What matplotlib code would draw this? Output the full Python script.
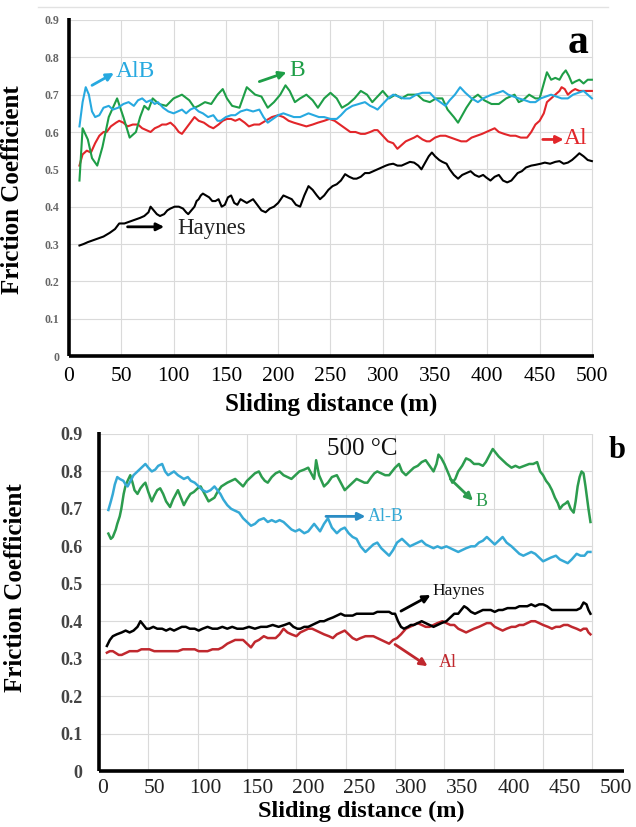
import matplotlib
matplotlib.use("Agg")
import matplotlib.pyplot as plt
from matplotlib.lines import Line2D

plt.rcParams['font.family'] = ['Liberation Serif', 'DejaVu Serif']

# ---------------- data: panel a ----------------
alb_a = [(10,.615),(13,.68),(16,.72),(19,.70),(22,.655),(25,.64),(29,.645),(33,.665),(38,.67),(42,.66),(47,.665),(52,.675),(57,.68),(62,.67),(66,.685),(70,.69),(74,.68),(78,.685),(82,.675),(85,.68),(90,.665),(95,.655),(100,.65),(104,.655),(108,.66),(112,.65),(116,.66),(120,.665),(124,.655),(128,.65),(133,.64),(138,.645),(142,.63),(145,.63),(150,.64),(155,.645),(159,.645),(164,.655),(170,.66),(176,.655),(182,.66),(186,.64),(190,.625),(195,.635),(200,.645),(205,.65),(210,.645),(215,.64),(221,.64),(225,.645),(229,.65),(234,.645),(239,.64),(244,.64),(250,.635),(256,.635),(260,.645),(265,.66),(271,.67),(277,.675),(283,.68),(288,.67),(292,.665),(295,.66),(300,.675),(305,.69),(310,.70),(315,.695),(320,.69),(326,.69),(332,.70),(338,.705),(345,.705),(350,.69),(355,.68),(360,.67),(364,.685),(369,.70),(374,.72),(379,.705),(385,.69),(391,.68),(396,.69),(400,.695),(404,.70),(410,.705),(415,.71),(420,.70),(425,.695),(430,.69),(436,.685),(441,.68),(446,.68),(451,.69),(456,.695),(461,.70),(466,.695),(471,.69),(477,.69),(482,.70),(487,.705),(492,.71),(496,.70),(500,.69)]

b_a = [(10,.47),(13,.61),(18,.58),(22,.53),(27,.51),(32,.56),(38,.64),(46,.69),(52,.64),(58,.585),(64,.60),(68,.64),(72,.67),(76,.66),(80,.69),(86,.675),(93,.67),(100,.69),(108,.70),(115,.685),(120,.665),(124,.67),(130,.68),(136,.675),(142,.70),(147,.715),(151,.69),(156,.67),(163,.665),(170,.72),(178,.70),(184,.695),(190,.665),(196,.68),(202,.70),(207,.725),(211,.71),(216,.68),(221,.69),(227,.70),(233,.685),(238,.665),(244,.69),(250,.705),(256,.69),(261,.665),(267,.675),(273,.69),(279,.71),(285,.70),(290,.68),(295,.695),(300,.71),(306,.69),(312,.70),(318,.69),(324,.70),(333,.70),(339,.685),(345,.68),(351,.69),(357,.69),(362,.66),(368,.64),(372,.625),(376,.645),(380,.665),(386,.69),(391,.70),(397,.685),(404,.675),(411,.675),(418,.69),(426,.70),(430,.68),(434,.685),(440,.70),(446,.69),(450,.69),(453,.72),(457,.76),(461,.74),(465,.745),(469,.74),(472,.755),(475,.765),(478,.75),(481,.73),(484,.735),(488,.74),(492,.73),(496,.74),(500,.74)]

al_a = [(10,.51),(13,.54),(17,.55),(21,.545),(25,.57),(29,.59),(33,.60),(36,.60),(40,.615),(45,.625),(48,.63),(52,.625),(56,.615),(61,.62),(66,.62),(70,.61),(74,.605),(78,.60),(82,.61),(86,.615),(89,.62),(93,.62),(97,.625),(101,.615),(105,.60),(108,.595),(112,.61),(116,.625),(120,.64),(124,.63),(129,.625),(134,.615),(138,.61),(143,.62),(147,.63),(151,.635),(155,.635),(159,.63),(163,.635),(168,.625),(172,.615),(177,.62),(182,.62),(188,.63),(194,.64),(200,.645),(205,.64),(210,.63),(215,.625),(221,.62),(227,.615),(233,.62),(238,.625),(244,.63),(249,.635),(254,.63),(259,.62),(264,.61),(269,.60),(274,.60),(279,.595),(283,.595),(288,.60),(292,.605),(295,.605),(300,.59),(305,.575),(310,.57),(314,.555),(318,.565),(322,.575),(326,.58),(330,.585),(333,.59),(338,.58),(342,.575),(345,.575),(350,.585),(355,.59),(360,.59),(365,.585),(370,.58),(375,.575),(380,.575),(385,.585),(390,.59),(395,.595),(399,.60),(403,.605),(407,.61),(411,.60),(416,.595),(422,.59),(427,.59),(432,.585),(438,.585),(442,.60),(446,.62),(450,.63),(454,.65),(457,.68),(461,.69),(465,.70),(469,.71),(471,.72),(474,.715),(477,.70),(481,.71),(484,.715),(488,.71),(492,.71),(496,.71),(500,.71)]

haynes_a = [(10,.296),(14,.30),(18,.305),(23,.31),(28,.315),(33,.32),(39,.33),(44,.34),(48,.355),(53,.355),(58,.36),(63,.365),(68,.37),(72,.375),(76,.385),(78,.40),(81,.39),(84,.38),(87,.375),(91,.38),(94,.39),(97,.395),(101,.40),(105,.40),(109,.395),(112,.385),(114,.38),(117,.39),(120,.40),(122,.415),(124,.42),(126,.43),(128,.435),(131,.43),(134,.425),(137,.415),(140,.415),(143,.42),(146,.40),(149,.405),(152,.425),(155,.43),(158,.41),(161,.405),(164,.42),(167,.415),(170,.41),(173,.415),(176,.42),(180,.405),(184,.39),(188,.385),(192,.395),(196,.40),(200,.41),(205,.43),(209,.425),(213,.42),(217,.405),(221,.40),(225,.43),(229,.455),(233,.445),(237,.43),(240,.42),(244,.43),(248,.445),(252,.455),(256,.46),(260,.47),(264,.487),(268,.48),(272,.475),(275,.475),(279,.48),(283,.49),(287,.49),(291,.495),(295,.50),(299,.505),(303,.51),(306,.513),(310,.515),(314,.51),(318,.51),(322,.515),(326,.52),(330,.518),(334,.51),(337,.50),(341,.52),(344,.535),(347,.545),(350,.535),(354,.525),(357,.52),(361,.515),(364,.50),(368,.485),(372,.475),(376,.485),(380,.49),(384,.495),(388,.485),(392,.48),(396,.485),(399,.478),(403,.47),(407,.48),(411,.485),(415,.47),(419,.465),(423,.47),(426,.48),(429,.49),(433,.495),(437,.505),(442,.51),(446,.512),(451,.515),(455,.518),(460,.515),(465,.52),(469,.522),(473,.515),(477,.518),(481,.525),(485,.535),(488,.543),(492,.535),(496,.525),(500,.522)]

# ---------------- data: panel b ----------------
b_b = [(9.5,.634),(12,.62),(14,.625),(17,.645),(18.5,.66),(21,.68),(22.6,.70),(25,.74),(26.7,.76),(29,.775),(31.7,.79),(34,.77),(36,.75),(39,.74),(42,.755),(45,.765),(47,.77),(50,.745),(53.5,.72),(56,.735),(59,.75),(62,.755),(65,.74),(68,.72),(72,.705),(75,.725),(78,.74),(80,.75),(83,.73),(86,.71),(89,.725),(92.6,.74),(96,.745),(100,.755),(103,.76),(106,.745),(109,.73),(111,.72),(114,.725),(117,.73),(120,.745),(124,.76),(127,.765),(130,.77),(134,.775),(138,.78),(142,.77),(146,.76),(150,.775),(154,.785),(158,.795),(162,.80),(165,.785),(168,.775),(171,.77),(175,.785),(179,.795),(183,.80),(187,.79),(191,.785),(195,.78),(199,.79),(203,.80),(208,.805),(212,.81),(215,.795),(218,.78),(220,.83),(223,.79),(228,.76),(232,.77),(236,.785),(241,.79),(245,.77),(249,.75),(253,.76),(257,.77),(261,.78),(265,.775),(269,.77),(272,.77),(276,.785),(279,.795),(282,.80),(286,.795),(290,.79),(294,.79),(297,.80),(300,.81),(304,.82),(307,.80),(311,.79),(315,.80),(319,.81),(323,.815),(327,.825),(331,.83),(335,.815),(339,.80),(342,.82),(344,.845),(347,.835),(350,.82),(354,.795),(358,.77),(361,.78),(364,.80),(368,.815),(372,.835),(376,.83),(380,.82),(385,.82),(389,.815),(392,.825),(396,.845),(399,.86),(402,.85),(405,.84),(409,.83),(413,.82),(418,.81),(422,.815),(426,.81),(431,.815),(436,.82),(440,.82),(444,.825),(447,.80),(450,.79),(453,.775),(456,.765),(459,.75),(462,.73),(465,.715),(467,.70),(470,.71),(473,.715),(475,.72),(478,.70),(481,.69),(483,.72),(485,.76),(487,.785),(489,.80),(491,.795),(493,.76),(495,.72),(496,.70),(498,.665)]

alb_b = [(9.5,.697),(12,.72),(14,.74),(16,.765),(18.5,.785),(21,.78),(24.7,.775),(27,.765),(29,.76),(32,.775),(35,.79),(39,.80),(43,.81),(47,.82),(50,.81),(53.5,.80),(57,.805),(60,.815),(64,.82),(67,.80),(70,.79),(73,.795),(76,.80),(80,.79),(83,.785),(86,.78),(90,.785),(93,.775),(97,.77),(101,.76),(105,.75),(109,.745),(113,.75),(117,.76),(120,.75),(123,.74),(126,.725),(130,.71),(134,.70),(138,.695),(142,.69),(146,.675),(150,.665),(154,.655),(158,.66),(162,.67),(167,.675),(171,.665),(175,.67),(179,.665),(183,.67),(187,.665),(191,.655),(195,.645),(199,.64),(203,.645),(208,.635),(212,.64),(215,.65),(218,.66),(221,.65),(224,.64),(228,.66),(232,.675),(236,.65),(241,.635),(245,.645),(249,.65),(253,.635),(257,.625),(261,.62),(265,.60),(270,.585),(274,.595),(278,.605),(282,.61),(286,.595),(290,.585),(294,.575),(298,.59),(302,.61),(307,.62),(311,.61),(315,.60),(319,.605),(323,.61),(327,.615),(331,.605),(335,.60),(339,.595),(343,.60),(347,.595),(352,.60),(356,.595),(360,.59),(364,.585),(368,.59),(372,.595),(377,.60),(381,.60),(385,.61),(389,.615),(393,.625),(397,.615),(401,.605),(405,.615),(409,.625),(413,.61),(418,.60),(422,.59),(426,.58),(430,.575),(434,.58),(438,.585),(442,.58),(446,.57),(450,.56),(454,.565),(458,.57),(463,.575),(467,.565),(471,.56),(475,.555),(479,.565),(484,.58),(488,.575),(492,.575),(495,.585),(498,.585)]

haynes_b = [(8,.334),(11,.35),(14,.36),(18,.365),(23,.37),(27,.375),(31,.37),(35,.375),(39,.385),(42,.40),(45,.39),(48,.38),(51,.38),(55,.385),(59,.38),(64,.38),(68,.375),(72,.38),(76,.375),(80,.38),(84,.385),(88,.385),(92,.38),(97,.38),(101,.375),(105,.38),(110,.385),(115,.38),(120,.38),(125,.385),(130,.38),(135,.385),(140,.38),(146,.38),(152,.385),(158,.38),(164,.385),(170,.385),(176,.39),(182,.385),(188,.39),(193,.395),(197,.385),(201,.38),(204,.38),(208,.385),(212,.385),(216,.39),(220,.395),(224,.40),(228,.40),(232,.405),(237,.41),(241,.415),(245,.42),(249,.415),(253,.415),(257,.415),(261,.42),(265,.42),(270,.42),(274,.42),(278,.42),(282,.425),(286,.425),(290,.425),(294,.425),(297,.42),(300,.42),(303,.40),(306,.385),(309,.38),(313,.385),(316,.39),(319,.39),(323,.395),(327,.40),(331,.395),(335,.39),(339,.385),(343,.39),(347,.395),(352,.40),(356,.41),(360,.42),(364,.42),(367,.43),(370,.44),(373,.435),(377,.425),(381,.42),(385,.425),(389,.43),(393,.43),(397,.43),(401,.425),(405,.43),(409,.43),(414,.435),(418,.435),(422,.435),(426,.44),(430,.44),(434,.44),(438,.445),(442,.44),(446,.445),(450,.445),(454,.44),(459,.43),(463,.43),(468,.43),(472,.43),(476,.43),(480,.43),(484,.43),(488,.435),(491,.45),(494,.445),(496,.43),(498,.42)]

al_b = [(8,.316),(11,.32),(14,.32),(17,.315),(20,.31),(23,.31),(27,.315),(31,.32),(35,.32),(39,.32),(43,.325),(47,.325),(51,.325),(56,.32),(60,.32),(64,.32),(68,.32),(72,.32),(76,.32),(80,.32),(85,.325),(89,.325),(93,.325),(97,.325),(101,.32),(105,.32),(110,.32),(115,.325),(121,.325),(125,.33),(130,.34),(134,.345),(138,.35),(142,.35),(146,.35),(150,.34),(154,.33),(158,.345),(162,.35),(167,.36),(171,.355),(175,.355),(179,.355),(183,.365),(187,.38),(191,.37),(195,.365),(200,.36),(204,.37),(208,.375),(212,.38),(216,.38),(220,.375),(224,.37),(228,.365),(233,.36),(237,.355),(241,.365),(245,.37),(249,.375),(253,.365),(257,.355),(261,.35),(265,.355),(270,.36),(274,.36),(278,.36),(282,.355),(286,.35),(290,.345),(294,.34),(298,.35),(302,.355),(306,.365),(311,.38),(315,.385),(319,.39),(323,.395),(327,.39),(331,.385),(335,.385),(339,.39),(343,.395),(348,.40),(352,.395),(356,.39),(360,.39),(364,.38),(368,.375),(372,.37),(376,.375),(380,.38),(385,.385),(389,.39),(393,.395),(397,.395),(401,.385),(405,.38),(409,.375),(413,.38),(418,.385),(422,.385),(426,.39),(430,.39),(434,.395),(438,.40),(442,.40),(446,.395),(450,.39),(455,.385),(459,.38),(463,.385),(467,.385),(471,.39),(475,.39),(479,.385),(484,.38),(488,.375),(491,.38),(494,.38),(496,.37),(498,.365)]

x_ticks = [0, 50, 100, 150, 200, 250, 300, 350, 400, 450, 500]
x_tick_labels = ['0', '50', '100', '150', '200', '250', '300', '350', '400', '450', '500']
y_ticks = [0, 0.1, 0.2, 0.3, 0.4, 0.5, 0.6, 0.7, 0.8, 0.9]
y_tick_labels = ['0', '0.1', '0.2', '0.3', '0.4', '0.5', '0.6', '0.7', '0.8', '0.9']
# label positions in panel b (labels are shifted relative to grid lines in the original)
x_tick_pos_b = [4, 56, 108, 160, 212, 264, 316, 368, 420, 472, 524]

W, H = 636, 827
fig = plt.figure(figsize=(W/100, H/100), dpi=100)

def px_axes(l, t, r, b):
    return fig.add_axes([l/W, 1 - b/H, (r - l)/W, (b - t)/H])

def xy(series):
    return [p[0] for p in series], [p[1] for p in series]

def style_axes(ax, xmax):
    ax.set_xlim(0, xmax)
    ax.set_ylim(0, 0.9)
    for s in ['top', 'right']:
        ax.spines[s].set_visible(False)
    for s in ['left', 'bottom']:
        ax.spines[s].set_linewidth(2.6)
        ax.spines[s].set_color('black')
        ax.spines[s].set_capstyle('butt')
    ax.spines['left'].set_bounds(0, 0.905)
    ax.tick_params(length=0)
    gc = '#dadada'
    for v in x_ticks[1:]:
        ax.plot([v, v], [0, 0.9], color=gc, lw=0.8, zorder=0)
    for v in y_ticks[1:]:
        ax.plot([0, 500], [v, v], color=gc, lw=0.8, zorder=0)

# ================= panel a =================
axa = px_axes(69, 20, 594, 356)
style_axes(axa, 502)
axa.set_xticks(x_ticks)
axa.set_xticklabels(x_tick_labels, fontsize=15.5)
axa.set_yticks(y_ticks)
axa.set_yticklabels(y_tick_labels, fontsize=8.5, fontweight='bold', color='#666666')
axa.tick_params(axis='x', pad=8)
axa.tick_params(axis='y', pad=7)

ca_blue, ca_green, ca_red = '#27a9e0', '#1e9e47', '#e2262a'
axa.plot(*xy(haynes_a), color='black', lw=1.5, zorder=3)
axa.plot(*xy(al_a), color=ca_red, lw=1.5, zorder=3)
axa.plot(*xy(alb_a), color=ca_blue, lw=1.5, zorder=4)
axa.plot(*xy(b_a), color=ca_green, lw=1.5, zorder=3)

def arrow(ax, x0, y0, x1, y1, c, lw=2.0, ms=11):
    ax.annotate('', xy=(x1, y1), xytext=(x0, y0),
                arrowprops=dict(arrowstyle='-|>', color=c, lw=lw, mutation_scale=ms,
                                shrinkA=0, shrinkB=0))

arrow(axa, 22, 0.725, 43, 0.758, ca_blue)
axa.text(45, 0.762, 'AlB', color=ca_blue, fontsize=17, va='center', ha='left')
arrow(axa, 182, 0.735, 208, 0.760, ca_green)
axa.text(211, 0.765, 'B', color=ca_green, fontsize=17, va='center', ha='left')
arrow(axa, 453, 0.58, 473, 0.58, ca_red)
axa.text(473, 0.582, 'Al', color=ca_red, fontsize=17, va='center', ha='left')
arrow(axa, 56, 0.346, 91, 0.346, 'black')
axa.text(104, 0.342, 'Haynes', color='#222222', fontsize=16.5, va='center', ha='left')

axa.set_ylabel('Friction Coefficient', fontsize=18, fontweight='bold')
axa.yaxis.set_label_coords(-0.086, 0.494)
axa.set_xlabel('Sliding distance (m)', fontsize=18, fontweight='bold')
axa.xaxis.set_label_coords(0.499, -0.108)

fig.text(578/W, 1 - 43/H, 'a', fontsize=30, fontweight='bold', ha='center', va='center')
fig.add_artist(Line2D([38/W, 608/W], [1 - 7/H, 1 - 7/H], color='#e2e2e2', lw=1))

# ================= panel b =================
axb = px_axes(99, 434, 624, 771)
style_axes(axb, 532)
axb.set_xticks(x_tick_pos_b)
axb.set_xticklabels(x_tick_labels, fontsize=15.5, color='#222222')
axb.set_yticks(y_ticks)
axb.set_yticklabels(y_tick_labels, fontsize=13, fontweight='bold', color='#444444')
axb.tick_params(axis='x', pad=6)
axb.tick_params(axis='y', pad=12)

cb_blue, cb_green, cb_red, cb_arrow = '#35a9d6', '#2c9c4e', '#c0282e', '#2a8cc4'
axb.plot(*xy(b_b), color=cb_green, lw=1.8, zorder=3)
axb.plot(*xy(alb_b), color=cb_blue, lw=1.8, zorder=3)
axb.plot(*xy(al_b), color=cb_red, lw=1.8, zorder=3)
axb.plot(*xy(haynes_b), color='black', lw=1.8, zorder=4)

axb.text(267, 0.86, '500 °C', fontsize=18, ha='center', va='center', color='#111111')
arrow(axb, 356, 0.78, 379, 0.722, cb_green)
axb.text(382, 0.72, 'B', color=cb_green, fontsize=13, va='center', ha='left')
arrow(axb, 230, 0.68, 270, 0.68, cb_arrow)
axb.text(272, 0.68, 'Al-B', color=cb_blue, fontsize=13, va='center', ha='left')
arrow(axb, 306, 0.427, 336, 0.47, 'black')
axb.text(338, 0.482, 'Haynes', color='#111111', fontsize=12.5, va='center', ha='left')
arrow(axb, 300, 0.338, 333, 0.28, cb_red)
axb.text(344, 0.29, 'Al', color=cb_red, fontsize=13, va='center', ha='left')

axb.set_ylabel('Friction Coefficient', fontsize=18, fontweight='bold')
axb.yaxis.set_label_coords(-0.137, 0.543)
axb.set_xlabel('Sliding distance (m)', fontsize=17.5, fontweight='bold')
axb.xaxis.set_label_coords(0.499, -0.088)

fig.text(617/W, 1 - 451/H, 'b', fontsize=22, fontweight='bold', ha='center', va='center')

fig.savefig('out.png', dpi=100)
